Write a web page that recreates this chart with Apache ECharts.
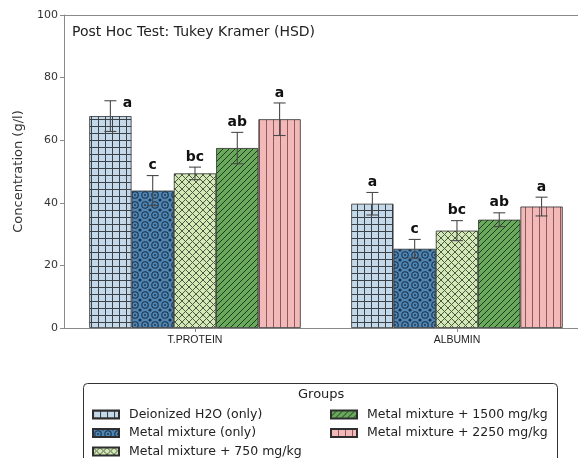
<!DOCTYPE html>
<html>
<head>
<meta charset="utf-8">
<script src="https://cdn.jsdelivr.net/npm/echarts@6/dist/echarts.min.js"></script>
<style>
  html, body { margin: 0; padding: 0; background: #fff; }
  #chart { width: 578px; height: 458px; }
</style>
</head>
<body>
<div id="chart"></div>
<script>
// Serum protein measures per treatment group (g/l), mean ± SD
const categories = ['T.PROTEIN', 'ALBUMIN'];
const groupNames = [
  'Deionized H2O (only)',
  'Metal mixture (only)',
  'Metal mixture + 750 mg/kg',
  'Metal mixture + 1500 mg/kg',
  'Metal mixture + 2250 mg/kg'
];
const deionizedMean = [67.7, 39.7];
const metalOnlyMean = [43.9, 25.3];
const metal750Mean = [49.4, 31.1];
const metal1500Mean = [57.5, 34.6];
const metal2250Mean = [66.7, 38.8];

const deionizedErr = [4.9, 3.6];
const metalOnlyErr = [4.8, 3.0];
const metal750Err = [2.0, 3.2];
const metal1500Err = [5.0, 2.2];
const metal2250Err = [5.2, 3.0];

// Tukey-Kramer grouping letters
const deionizedLetters = ['a', 'a'];
const metalOnlyLetters = ['c', 'c'];
const metal750Letters = ['bc', 'bc'];
const metal1500Letters = ['ab', 'ab'];
const metal2250Letters = ['a', 'a'];

const yTicks = [0, 20, 40, 60, 80, 100];

const means = [deionizedMean, metalOnlyMean, metal750Mean, metal1500Mean, metal2250Mean];
const errs = [deionizedErr, metalOnlyErr, metal750Err, metal1500Err, metal2250Err];
const letters = [deionizedLetters, metalOnlyLetters, metal750Letters, metal1500Letters, metal2250Letters];
const catPositions = categories.map((c, i) => i);

// ---- hatch fills ----
function tile(w, h, draw) {
  const c = document.createElement('canvas');
  c.width = w; c.height = h;
  const ctx = c.getContext('2d');
  draw(ctx, w, h);
  return { image: c, repeat: 'repeat' };
}
const hatchGrid = tile(7, 7, (ctx, w, h) => {
  ctx.fillStyle = '#c3d9ea'; ctx.fillRect(0, 0, w, h);
  ctx.fillStyle = '#3c4148';
  ctx.fillRect(0, 0, 1, h); ctx.fillRect(0, 0, w, 1);
});
const hatchRings = tile(10, 10, (ctx, w, h) => {
  ctx.fillStyle = '#4f86b4'; ctx.fillRect(0, 0, w, h);
  ctx.strokeStyle = '#1b3149'; ctx.lineWidth = 1.1;
  ctx.beginPath(); ctx.arc(5, 5, 3.2, 0, Math.PI * 2); ctx.stroke();
  ctx.fillStyle = '#1b3149';
  ctx.beginPath(); ctx.arc(5, 5, 0.9, 0, Math.PI * 2); ctx.fill();
  [[0, 0], [10, 0], [0, 10], [10, 10]].forEach(p => {
    ctx.beginPath(); ctx.arc(p[0], p[1], 1.6, 0, Math.PI * 2); ctx.fill();
  });
});
const hatchCross = tile(7, 7, (ctx, w, h) => {
  ctx.fillStyle = '#d5e9b7'; ctx.fillRect(0, 0, w, h);
  ctx.strokeStyle = '#4b5a44'; ctx.lineWidth = 1;
  ctx.beginPath();
  ctx.moveTo(0, 0); ctx.lineTo(w, h);
  ctx.moveTo(w, 0); ctx.lineTo(0, h);
  ctx.stroke();
});
const hatchDiag = tile(6, 6, (ctx, w, h) => {
  ctx.fillStyle = '#69a95c'; ctx.fillRect(0, 0, w, h);
  ctx.strokeStyle = '#1f3a1c'; ctx.lineWidth = 1;
  ctx.beginPath();
  ctx.moveTo(-1, h + 1); ctx.lineTo(w + 1, -1);
  ctx.moveTo(-1, 1); ctx.lineTo(1, -1);
  ctx.moveTo(w - 1, h + 1); ctx.lineTo(w + 1, h - 1);
  ctx.stroke();
});
const hatchVert = tile(7, 7, (ctx, w, h) => {
  ctx.fillStyle = '#f3b8b8'; ctx.fillRect(0, 0, w, h);
  ctx.fillStyle = '#8a5a5c'; ctx.fillRect(0, 0, 1, h);
});
const fills = [hatchGrid, hatchRings, hatchCross, hatchDiag, hatchVert];

const BAR_PX = 42.3;
// a nudge for the first letter, which sits beside its error bar
const letterNudge = { '0-0': [17, 13] };

// x is a continuous axis running past the right edge of the canvas
const X_MIN = -0.5, X_MAX = 1.462;

const barSeries = groupNames.map((name, g) => ({
  name: name,
  type: 'bar',
  data: catPositions.map(ci => [ci, means[g][ci]]),
  barWidth: BAR_PX,
  barGap: '0%',
  itemStyle: { color: fills[g], borderColor: '#2e2e2e', borderWidth: 0.8 },
  emphasis: { disabled: true },
  z: 2
}));

const errData = [];
groupNames.forEach((name, g) => {
  catPositions.forEach(ci => {
    errData.push([ci, means[g][ci], errs[g][ci], g, letters[g][ci]]);
  });
});

const errSeries = {
  type: 'custom',
  data: errData,
  z: 5,
  silent: true,
  renderItem: function (params, api) {
    const ci = api.value(0), m = api.value(1), e = api.value(2), g = api.value(3);
    const letter = errData[params.dataIndex][4];
    const cx = api.coord([ci, m])[0] + (g - 2) * BAR_PX;
    const yTop = api.coord([ci, m + e])[1];
    const yBot = api.coord([ci, m - e])[1];
    const cap = 6;
    const ls = { stroke: '#4a4a4a', lineWidth: 1.1 };
    const nudge = letterNudge[g + '-' + ci] || [0, 0];
    return {
      type: 'group',
      children: [
        { type: 'line', shape: { x1: cx, y1: yTop, x2: cx, y2: yBot }, style: ls },
        { type: 'line', shape: { x1: cx - cap, y1: yTop, x2: cx + cap, y2: yTop }, style: ls },
        { type: 'line', shape: { x1: cx - cap, y1: yBot, x2: cx + cap, y2: yBot }, style: ls },
        {
          type: 'text',
          x: cx + nudge[0], y: yTop - 10 + nudge[1],
          style: {
            text: letter, fill: '#111', align: 'center', verticalAlign: 'middle',
            font: 'bold 14px "DejaVu Sans", sans-serif'
          }
        }
      ]
    };
  }
};

const chart = echarts.init(document.getElementById('chart'), null, { renderer: 'canvas' });
const legendText = { fontSize: 12.5, color: '#222', fontFamily: 'DejaVu Sans', padding: [0, 0, 0, 5] };
const legendBase = {
  orient: 'vertical', top: 408, height: 80, padding: 0,
  itemWidth: 26, itemHeight: 8, itemGap: 5.5, icon: 'rect',
  textStyle: legendText, selectedMode: false
};
const spineStyle = { color: '#8a8a8a', width: 1 };
chart.setOption({
  animation: false,
  backgroundColor: '#fff',
  grid: { left: 64, top: 15, right: 0, height: 313 },
  xAxis: [
    {
      type: 'value', min: X_MIN, max: X_MAX,
      axisLine: { show: true, onZero: false, lineStyle: spineStyle },
      axisTick: { show: true, length: 4, customValues: catPositions, lineStyle: { color: '#8a8a8a' } },
      axisLabel: {
        customValues: catPositions,
        formatter: v => categories[Math.round(v)],
        fontSize: 10.5, color: '#222', margin: 7,
        fontFamily: 'Liberation Sans Narrow, Liberation Sans, sans-serif'
      },
      splitLine: { show: false }
    },
    {
      type: 'value', min: X_MIN, max: X_MAX, position: 'top',
      axisLine: { show: true, onZero: false, lineStyle: spineStyle },
      axisTick: { show: false }, axisLabel: { show: false }, splitLine: { show: false }
    }
  ],
  yAxis: {
    type: 'value',
    min: yTicks[0], max: yTicks[yTicks.length - 1], interval: yTicks[1] - yTicks[0],
    name: 'Concentration (g/l)',
    nameLocation: 'middle', nameGap: 39,
    nameTextStyle: { fontSize: 13, color: '#333', fontFamily: 'DejaVu Sans' },
    axisLine: { show: true, onZero: false, lineStyle: spineStyle },
    axisTick: { show: true, length: 4, lineStyle: { color: '#8a8a8a' } },
    axisLabel: { fontSize: 11, color: '#333', margin: 6, fontFamily: 'DejaVu Sans' },
    splitLine: { show: false }
  },
  legend: [
    Object.assign({ data: groupNames.slice(0, 3), left: 92 }, legendBase),
    Object.assign({ data: groupNames.slice(3), left: 330 }, legendBase)
  ],
  graphic: [
    {
      type: 'text', left: 72, top: 25, z: 10,
      style: { text: 'Post Hoc Test: Tukey Kramer (HSD)', font: '14px "DejaVu Sans", sans-serif', fill: '#222' }
    },
    {
      type: 'rect', left: 83, top: 383, z: -1,
      shape: { width: 474, height: 90, r: 4 },
      style: { fill: '#fff', stroke: '#333', lineWidth: 1 }
    },
    {
      type: 'text', left: 298, top: 388, z: 10,
      style: { text: 'Groups', font: '13px "DejaVu Sans", sans-serif', fill: '#222' }
    }
  ],
  series: barSeries.concat([errSeries])
});
</script>
</body>
</html>
